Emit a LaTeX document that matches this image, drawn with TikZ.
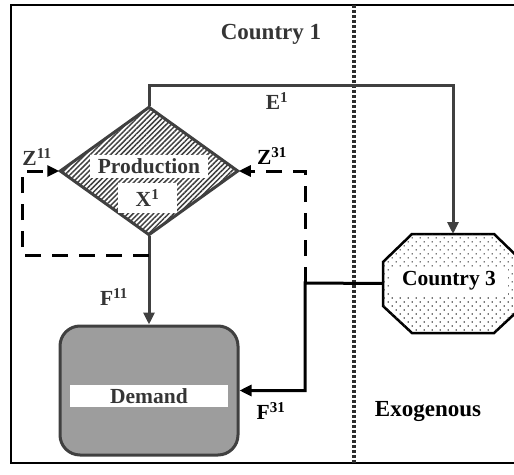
\documentclass[tikz,border=0pt]{standalone}
\usepackage{fontspec}
\setmainfont{Liberation Serif}
\usetikzlibrary{arrows.meta,patterns,patterns.meta,shapes.geometric}
\definecolor{dk}{HTML}{404040}
\definecolor{tx}{HTML}{353535}
\begin{document}
\begin{tikzpicture}[x=1pt,y=-1pt,
  lbl/.style={font=\fontsize{21.5}{24}\selectfont\bfseries, inner sep=0pt, text=tx},
  blbl/.style={lbl, text=black},
  big/.style={font=\fontsize{23}{26}\selectfont\bfseries, inner sep=0pt},
  band/.style={fill=white, inner sep=0pt},
  arr/.style={-{Triangle[length=12pt,width=11pt]}},
  flow/.style={line width=3pt},
  dflow/.style={line width=3pt, dash pattern=on 16pt off 11pt},
]
\useasboundingbox (0,0) rectangle (514,474);
\clip (0,0) rectangle (514,474);

% frame (open on the right)
\draw[line width=2.2pt] (520,5) -- (11,5) -- (11,463) -- (520,463);
% dotted border
\draw[dk!70!black, line width=4pt, dash pattern=on 3pt off 2pt] (354,5) -- (354,463);

% nodes
\node[diamond, draw=dk, line width=3pt, pattern={Lines[angle=45,distance=3.6pt,line width=1.5pt]}, pattern color=dk,
      minimum width=178pt, minimum height=128pt, inner sep=0pt] (prod) at (149,171) {};
\node[lbl, band, minimum width=118pt, minimum height=23pt] (prodl) at (149,166.5) {Production};
\node[lbl, band, minimum width=59pt, minimum height=30pt] (xl) at (147.5,198) {X\textsuperscript{1}};

\node[draw=dk, line width=3pt, rounded corners=20pt, preaction={fill=gray!55},
      pattern={Dots[distance=2pt,radius=0.6pt]}, pattern color=dk,
      minimum width=178pt, minimum height=129pt, inner sep=0pt] (dem) at (149,390.5) {};
\node[lbl, band, minimum width=158pt, minimum height=22pt] (deml) at (149,396) {Demand};

\node[minimum width=140pt, minimum height=99pt, inner sep=0pt, outer sep=0pt] (c3) at (453,283.5) {};
\draw[black, line width=2.5pt, fill=white, postaction={pattern={Dots[distance=5.66pt,angle=45,radius=0.85pt]}, pattern color=black!80}]
  (383,262) -- (412,234) -- (494,234) -- (523,262) -- (523,306) -- (494,333) -- (412,333) -- (383,306) -- cycle;
\node[blbl, band, minimum width=117pt, minimum height=28pt] (c3l) at (449,281) {Country 3};

% labels
\node[big, text=tx] (c1) at (271,34) {Country 1};
\node[big, text=black] (exo) at (428,412) {Exogenous};
\node[lbl] (e1) at (277,101) {E\textsuperscript{1}};
\node[lbl] (z11) at (37,157) {Z\textsuperscript{11}};
\node[blbl] (z31) at (272,156) {Z\textsuperscript{31}};
\node[lbl] (f11) at (114,297) {F\textsuperscript{11}};
\node[blbl] (f31) at (271,411) {F\textsuperscript{31}};

% coordinates
\coordinate (etop) at (149,85);
\coordinate (zj) at (149,255);
\coordinate (zl) at (22,255);
\coordinate (j3) at (305,283);

% connectors
\draw[dk, flow, arr] (prod.north) -- (etop) -| (c3.north);
\draw[dk, flow, arr] (prod.south) -- (dem.north);
\draw[black, dflow, arr] (zj) -- (zl) |- (prod.west);
\draw[black, dflow, arr] (j3) |- (prod.east);
\draw[black, flow, arr] (c3.west) -- (j3) |- (dem.east);
\end{tikzpicture}
\end{document}
